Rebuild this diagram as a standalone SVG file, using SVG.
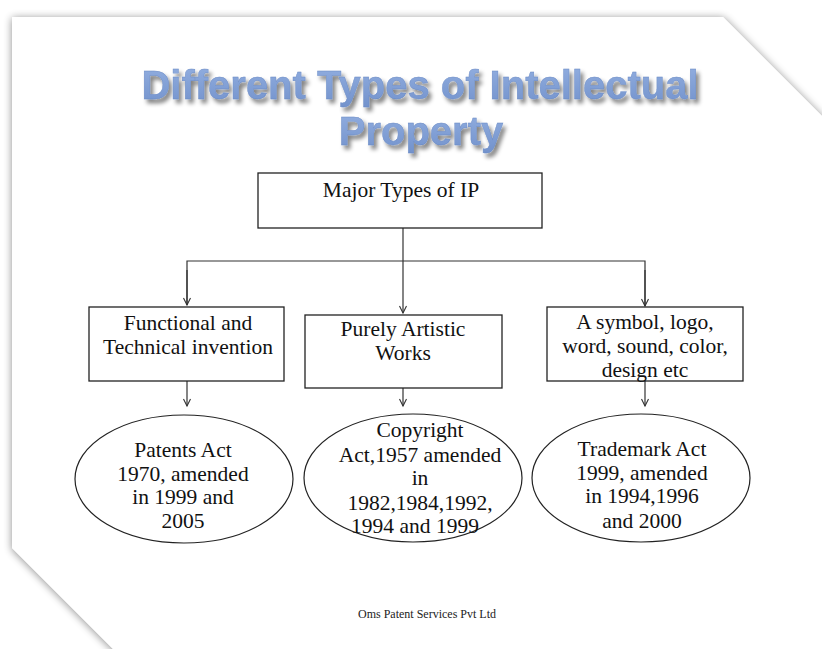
<svg xmlns="http://www.w3.org/2000/svg" width="822" height="649" viewBox="0 0 822 649">
  <defs>
    <filter id="slideShadow" x="-10%" y="-10%" width="120%" height="120%">
      <feGaussianBlur in="SourceAlpha" stdDeviation="4"/>
      <feOffset dx="0" dy="1" result="b"/>
      <feComponentTransfer in="b" result="s"><feFuncA type="linear" slope="0.45"/></feComponentTransfer>
      <feMerge><feMergeNode in="s"/><feMergeNode in="SourceGraphic"/></feMerge>
    </filter>
    <filter id="titleShadow" x="-10%" y="-30%" width="120%" height="160%">
      <feGaussianBlur in="SourceAlpha" stdDeviation="2"/>
      <feOffset dx="3" dy="4" result="b"/>
      <feComponentTransfer in="b" result="s"><feFuncA type="linear" slope="0.5"/></feComponentTransfer>
      <feMerge><feMergeNode in="s"/><feMergeNode in="SourceGraphic"/></feMerge>
    </filter>
    <linearGradient id="titleFill" x1="0" y1="0" x2="0" y2="1">
      <stop offset="0" stop-color="#93afe0"/>
      <stop offset="1" stop-color="#7292cc"/>
    </linearGradient>
    <marker id="arrow" markerUnits="userSpaceOnUse" markerWidth="10" markerHeight="10" refX="8" refY="4" orient="auto">
      <path d="M1,0.5 L8,4 L1,7.5" fill="none" stroke="#333" stroke-width="1.1"/>
    </marker>
  </defs>
  <style>
    .box { fill: #fff; stroke: #222; stroke-width: 1.3; }
    .ell { fill: #fff; stroke: #222; stroke-width: 1.2; }
    .lbl { font-family: "Liberation Serif", "Times New Roman", serif; font-size: 21.5px; fill: #111; text-anchor: middle; }
    .title { font-family: "Liberation Sans", Arial, sans-serif; font-weight: bold; font-size: 40px; fill: url(#titleFill); stroke: #6a8ac4; stroke-width: 0.4; text-anchor: middle; }
    .conn { fill: none; stroke: #333; stroke-width: 1.2; }
    .foot { font-family: "Liberation Serif", "Times New Roman", serif; font-size: 12px; fill: #222; text-anchor: middle; }
  </style>

  <rect width="822" height="649" fill="#fff"/>
  <polygon points="12,17 723,17 830,124 830,660 124,660 12,548" fill="#fff" filter="url(#slideShadow)"/>

  <g id="title" filter="url(#titleShadow)">
    <text class="title" x="420" y="99">Different Types of Intellectual</text>
    <text class="title" x="421" y="145">Property</text>
  </g>

  <g id="connectors">
    <path class="conn" d="M403,228 L403,313" marker-end="url(#arrow)"/>
    <path class="conn" d="M187,305 L187,261 L645,261 L645,306" />
    <path class="conn" d="M187,270 L187,305" marker-end="url(#arrow)"/>
    <path class="conn" d="M645,270 L645,306" marker-end="url(#arrow)"/>
    <path class="conn" d="M187,381 L187,406" marker-end="url(#arrow)"/>
    <path class="conn" d="M403,388 L403,406" marker-end="url(#arrow)"/>
    <path class="conn" d="M645,381 L645,406" marker-end="url(#arrow)"/>
  </g>

  <g id="major">
    <rect class="box" x="258" y="173" width="284" height="55"/>
    <text class="lbl" x="401" y="197">Major Types of IP</text>
  </g>

  <g id="functional">
    <rect class="box" x="89" y="307" width="195" height="74"/>
    <text class="lbl" x="188" y="330">Functional and</text>
    <text class="lbl" x="188" y="354">Technical invention</text>
  </g>

  <g id="artistic">
    <rect class="box" x="305" y="315" width="197" height="73"/>
    <text class="lbl" x="403" y="336">Purely Artistic</text>
    <text class="lbl" x="403" y="360">Works</text>
  </g>

  <g id="symbol">
    <rect class="box" x="547" y="307" width="196" height="74"/>
    <text class="lbl" x="645" y="329">A symbol, logo,</text>
    <text class="lbl" x="645" y="353">word, sound, color,</text>
    <text class="lbl" x="645" y="377">design etc</text>
  </g>

  <g id="patents">
    <ellipse class="ell" cx="184" cy="479" rx="109" ry="64"/>
    <text class="lbl" x="183" y="457">Patents Act</text>
    <text class="lbl" x="183" y="481">1970, amended</text>
    <text class="lbl" x="183" y="504">in 1999 and</text>
    <text class="lbl" x="183" y="528">2005</text>
  </g>

  <g id="copyright">
    <ellipse class="ell" cx="413" cy="478" rx="109" ry="64"/>
    <text class="lbl" x="420" y="437">Copyright</text>
    <text class="lbl" x="420" y="462">Act,1957 amended</text>
    <text class="lbl" x="420" y="485">in</text>
    <text class="lbl" x="420" y="510">1982,1984,1992,</text>
    <text class="lbl" x="415" y="533">1994 and 1999</text>
  </g>

  <g id="trademark">
    <ellipse class="ell" cx="641" cy="478" rx="109" ry="64"/>
    <text class="lbl" x="642" y="456">Trademark Act</text>
    <text class="lbl" x="642" y="480">1999, amended</text>
    <text class="lbl" x="642" y="503">in 1994,1996</text>
    <text class="lbl" x="642" y="528">and 2000</text>
  </g>

  <text class="foot" x="427" y="618">Oms Patent Services Pvt Ltd</text>
</svg>
